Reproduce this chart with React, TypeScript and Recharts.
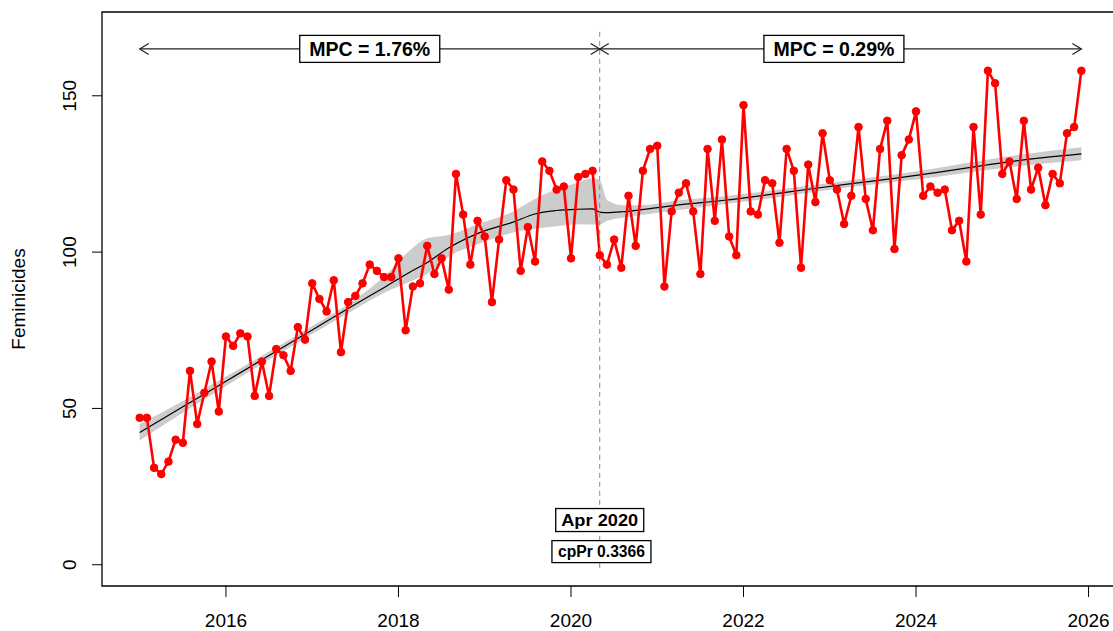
import React from 'react';
import {
  ComposedChart,
  Line,
  Area,
  XAxis,
  YAxis,
  ReferenceLine,
  ReferenceArea,
  ReferenceDot,
} from 'recharts';

// ---------- data ----------
const START_YEAR = 2015;
const y2015 = [47, 47, 31, 29, 33, 40, 39, 62, 45, 55, 65, 49];
const y2016 = [73, 70, 74, 73, 54, 65, 54, 69, 67, 62, 76, 72];
const y2017 = [90, 85, 81, 91, 68, 84, 86, 90, 96, 94, 92, 92];
const y2018 = [98, 75, 89, 90, 102, 93, 98, 88, 125, 112, 96, 110];
const y2019 = [105, 84, 104, 123, 120, 94, 108, 97, 129, 126, 120, 121];
const y2020 = [98, 124, 125, 126, 99, 96, 104, 95, 118, 102, 126, 133];
const y2021 = [134, 89, 113, 119, 122, 113, 93, 133, 110, 136, 105, 99];
const y2022 = [147, 113, 112, 123, 122, 103, 133, 126, 95, 128, 116, 138];
const y2023 = [123, 120, 109, 118, 140, 117, 107, 133, 142, 101, 131, 136];
const y2024 = [145, 118, 121, 119, 120, 107, 110, 97, 140, 112, 158, 154];
const y2025 = [125, 129, 117, 142, 120, 127, 115, 125, 122, 138, 140, 158];
const yearlySeries = [y2015, y2016, y2017, y2018, y2019, y2020, y2021, y2022, y2023, y2024, y2025];

// fitted trend (decimal year)
const trendX = [2015.0, 2015.5, 2016.0, 2016.5, 2017.0, 2017.5, 2017.83, 2018.17, 2018.33, 2018.58, 2018.95, 2019.33, 2019.58, 2019.83, 2020.08, 2020.25, 2020.333, 2020.42, 2020.6, 2020.8, 2021.25, 2021.75, 2022.25, 2022.75, 2023.25, 2023.75, 2024.25, 2024.75, 2025.25, 2025.917];
const trendY = [42.3, 50.5, 58.7, 66.9, 75.1, 83.3, 88.6, 94.2, 96.6, 101.3, 106.3, 109.6, 112.2, 113.3, 113.7, 113.8, 112.8, 112.6, 112.9, 113.5, 115.1, 116.5, 118.2, 120.1, 121.9, 123.6, 125.5, 127.6, 129.5, 131.4];
const bandLo = [39.7, 48.6, 57.2, 65.6, 73.8, 81.8, 86.9, 91.0, 93.0, 98.5, 102.8, 106.3, 107.5, 108.3, 108.9, 108.8, 108.8, 110.0, 111.0, 111.8, 113.5, 115.2, 117.0, 119.0, 120.8, 122.4, 124.1, 126.0, 127.7, 129.4];
const bandHi = [45.0, 52.4, 60.2, 68.2, 76.4, 84.9, 92.0, 101.5, 104.4, 105.5, 109.2, 113.0, 117.0, 120.0, 122.3, 123.6, 123.0, 116.7, 115.0, 115.0, 116.6, 117.8, 119.4, 121.2, 123.0, 124.8, 126.9, 129.2, 131.3, 133.5];

const xTicks = [2016, 2018, 2020, 2022, 2024, 2026];
const yTicks = [0, 50, 100, 150];
const changePointX = 2020.333;
const segmentStart = 2015.0;
const segmentEnd = 2025.917;
const arrowY = 165;
const mpcLabels = ['MPC = 1.76%', 'MPC = 0.29%'];
const mpcLabelX = [2017.667, 2023.048];
const cpLabel = 'Apr 2020';
const cpProbLabel = 'cpPr 0.3366';

// ---------- tables built from the arrays ----------
const points = yearlySeries.flatMap((vals, yi) =>
  vals.map((v, mi) => ({ x: START_YEAR + yi + mi / 12, v }))
);
const trendData = trendX.map((x, i) => ({ x, t: trendY[i], band: [bandLo[i], bandHi[i]] }));

const X_DOMAIN: [number, number] = [2014.563, 2026.353];
const Y_DOMAIN: [number, number] = [-6.8, 176.8];
const FONT = '"Liberation Sans", Arial, sans-serif';
const NARROW = '"Liberation Sans Narrow", "Arial Narrow", "Liberation Sans", Arial, sans-serif';

const XTick = (props: any) => {
  const { x, payload } = props;
  return (
    <text x={x} y={627} textAnchor="middle" fontSize={19} fontFamily={FONT} fill="#000">
      {payload.value}
    </text>
  );
};

const YTick = (props: any) => {
  const { y, payload } = props;
  const bx = 76;
  return (
    <text
      x={bx}
      y={y}
      transform={`rotate(-90, ${bx}, ${y})`}
      textAnchor="middle"
      fontSize={19}
      fontFamily={FONT}
      fill="#000"
    >
      {payload.value}
    </text>
  );
};

const arrowShape = (props: any) => {
  const { x1, y1, x2, y2 } = props;
  const hl = 9;
  const hw = 5.5;
  const c = '#222';
  return (
    <g>
      <line x1={x1} y1={y1} x2={x2} y2={y2} stroke={c} strokeWidth={1.2} />
      <polyline points={`${x1 + hl},${y1 - hw} ${x1},${y1} ${x1 + hl},${y1 + hw}`} fill="none" stroke={c} strokeWidth={1.2} />
      <polyline points={`${x2 - hl},${y2 - hw} ${x2},${y2} ${x2 - hl},${y2 + hw}`} fill="none" stroke={c} strokeWidth={1.2} />
    </g>
  );
};

const boxLabel = (text: string, w: number, h: number, fs: number, tl: number) => (props: any) => {
  const { cx, cy } = props;
  return (
    <g>
      <rect x={cx - w / 2} y={cy - h / 2} width={w} height={h} fill="#fff" stroke="#000" strokeWidth={1.3} />
      <text
        x={cx}
        y={cy + fs * 0.36}
        textAnchor="middle"
        fontSize={fs}
        fontWeight="bold"
        fontFamily={NARROW}
        textLength={tl}
        lengthAdjust="spacingAndGlyphs"
        fill="#000"
      >
        {text}
      </text>
    </g>
  );
};

export default function App() {
  return (
    <div style={{ position: 'absolute', left: 0, top: 0, width: 1113, height: 631, overflow: 'hidden', background: '#fff' }}>
      <ComposedChart width={1120} height={631} margin={{ top: 12, right: 1, bottom: 0, left: 0 }}>
        <XAxis
          dataKey="x"
          type="number"
          domain={X_DOMAIN}
          ticks={xTicks}
          allowDataOverflow
          axisLine={false}
          tickLine={{ stroke: '#000', strokeWidth: 1 }}
          tickSize={11}
          tick={<XTick />}
          height={45}
        />
        <YAxis
          type="number"
          domain={Y_DOMAIN}
          ticks={yTicks}
          allowDataOverflow
          axisLine={false}
          tickLine={{ stroke: '#000', strokeWidth: 1 }}
          tickSize={10}
          tick={<YTick />}
          width={102}
          label={{
            value: 'Feminicides',
            angle: -90,
            position: 'insideLeft',
            content: () => (
              <text
                x={25}
                y={299}
                transform="rotate(-90, 25, 299)"
                textAnchor="middle"
                fontSize={19}
                fontFamily={FONT}
                fill="#000"
              >
                Feminicides
              </text>
            ),
          }}
        />
        <ReferenceArea
          x1={X_DOMAIN[0]}
          x2={X_DOMAIN[1]}
          y1={Y_DOMAIN[0]}
          y2={Y_DOMAIN[1]}
          fill="none"
          stroke="#000"
          strokeWidth={1.3}
          ifOverflow="visible"
        />
        <Area
          data={trendData}
          dataKey="band"
          type="monotone"
          fill="#CCCCCC"
          fillOpacity={1}
          stroke="none"
          isAnimationActive={false}
          dot={false}
          activeDot={false}
        />
        <Line
          data={trendData}
          dataKey="t"
          type="monotone"
          stroke="#000"
          strokeWidth={1.2}
          dot={false}
          activeDot={false}
          isAnimationActive={false}
        />
        <Line
          data={points}
          dataKey="v"
          type="linear"
          stroke="#FF0000"
          strokeWidth={2.6}
          dot={{ r: 3.8, fill: '#FF0000', stroke: '#FF0000', strokeWidth: 1 }}
          activeDot={false}
          isAnimationActive={false}
        />
        <ReferenceLine
          segment={[{ x: changePointX, y: -1 }, { x: changePointX, y: 171 }]}
          stroke="#888"
          strokeDasharray="5 4"
          strokeWidth={1}
        />
        <ReferenceLine
          segment={[{ x: segmentStart, y: arrowY }, { x: changePointX, y: arrowY }]}
          shape={arrowShape}
        />
        <ReferenceLine
          segment={[{ x: changePointX, y: arrowY }, { x: segmentEnd, y: arrowY }]}
          shape={arrowShape}
        />
        <ReferenceDot x={mpcLabelX[0]} y={arrowY} r={1} shape={boxLabel(mpcLabels[0], 140, 27, 21, 121)} />
        <ReferenceDot x={mpcLabelX[1]} y={arrowY} r={1} shape={boxLabel(mpcLabels[1], 140, 27, 21, 121)} />
        <ReferenceDot x={changePointX} y={14.3} r={1} shape={boxLabel(cpLabel, 88, 23, 17, 77)} />
        <ReferenceDot x={changePointX + 0.02} y={4.2} r={1} shape={boxLabel(cpProbLabel, 99, 22, 16, 87)} />
      </ComposedChart>
    </div>
  );
}
